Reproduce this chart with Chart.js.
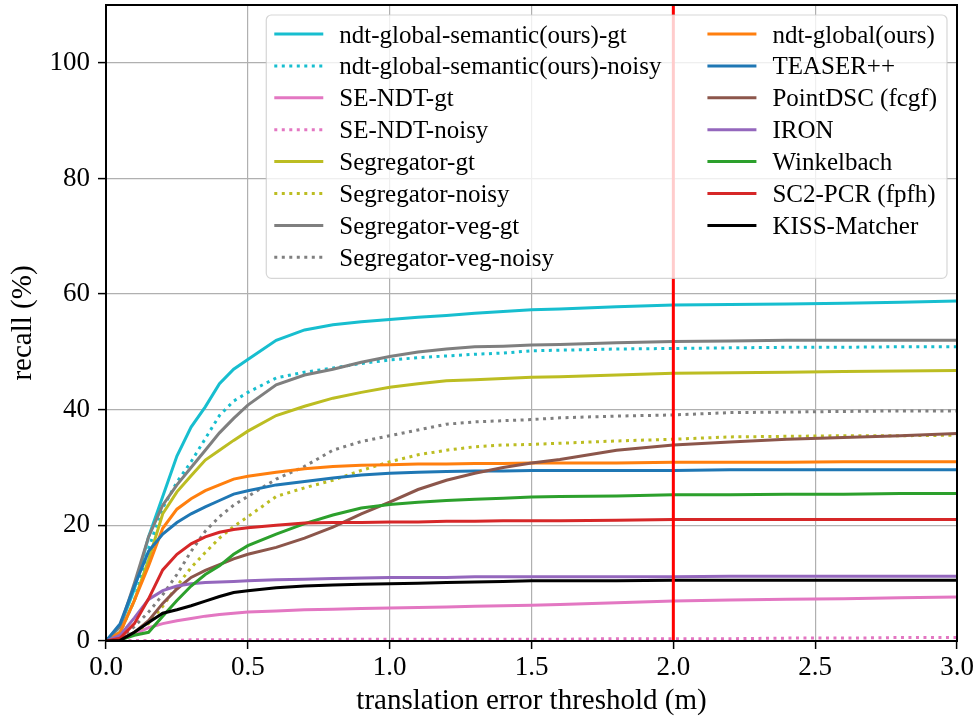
<!DOCTYPE html>
<html>
<head>
<meta charset="utf-8">
<script src="https://cdn.jsdelivr.net/npm/chart.js@4.4.1/dist/chart.umd.min.js"></script>
<style>
  html, body { margin: 0; padding: 0; background: #fff; }
</style>
</head>
<body>
<canvas id="recallChart" width="978" height="717"></canvas>
<script>
"use strict";
const thresholds = [0, 0.05, 0.1, 0.15, 0.2, 0.25, 0.3, 0.35, 0.4, 0.45, 0.5, 0.6, 0.7, 0.8, 0.9, 1.0, 1.1, 1.2, 1.3, 1.4, 1.5, 1.6, 1.8, 2.0, 2.2, 2.4, 2.6, 2.8, 3.0];

const semGt      = [0, 2.5, 9, 18, 25, 32, 37, 40.5, 44.5, 47, 48.7, 52, 53.8, 54.7, 55.2, 55.6, 56, 56.3, 56.7, 57, 57.3, 57.4, 57.8, 58.1, 58.2, 58.3, 58.4, 58.6, 58.8];
const semNoisy   = [0, 1.5, 7, 16, 23, 27.5, 31, 35, 39, 41.5, 43, 45.5, 46.5, 47.2, 48, 48.6, 49, 49.3, 49.6, 49.8, 50.2, 50.3, 50.5, 50.6, 50.7, 50.8, 50.8, 50.9, 50.9];
const seNdtGt    = [0, 0.3, 1.2, 2.3, 3, 3.5, 3.9, 4.3, 4.6, 4.8, 5, 5.2, 5.4, 5.5, 5.6, 5.7, 5.8, 5.9, 6, 6.1, 6.2, 6.3, 6.6, 6.9, 7.1, 7.2, 7.3, 7.5, 7.6];
const seNdtNoisy = [0, 0.1, 0.1, 0.1, 0.1, 0.1, 0.2, 0.2, 0.2, 0.2, 0.2, 0.2, 0.2, 0.3, 0.3, 0.3, 0.3, 0.3, 0.3, 0.3, 0.3, 0.3, 0.4, 0.4, 0.4, 0.5, 0.5, 0.6, 0.6];
const segGt      = [0, 1.5, 7, 14, 22, 25.8, 28.6, 31.3, 33, 34.7, 36.3, 39, 40.6, 42, 43, 43.9, 44.5, 45, 45.2, 45.4, 45.6, 45.7, 46, 46.3, 46.4, 46.5, 46.6, 46.7, 46.8];
const segNoisy   = [0, 0.3, 1.5, 3, 6, 9.5, 12.7, 15.3, 17.8, 19.8, 21.5, 25, 26.5, 27.8, 29.5, 31, 32.2, 33, 33.6, 33.9, 34, 34.2, 34.6, 34.9, 35.3, 35.4, 35.5, 35.5, 35.6];
const vegGt      = [0, 2.5, 10, 18, 23.5, 27, 30, 33, 36, 38.5, 40.8, 44.3, 46, 47, 48.2, 49.2, 50, 50.5, 50.9, 51, 51.2, 51.3, 51.6, 51.8, 51.9, 52, 52, 52, 52];
const vegNoisy   = [0, 0.5, 2.5, 5, 8, 11.5, 15.5, 19, 21.5, 23.5, 25, 28, 30.2, 33, 34.5, 35.5, 36.5, 37.5, 37.9, 38.1, 38.3, 38.6, 38.9, 39.1, 39.5, 39.6, 39.7, 39.8, 39.8];
const ndtGlobal  = [0, 1.5, 7, 13, 19.5, 22.8, 24.6, 26, 27, 28, 28.5, 29.2, 29.8, 30.2, 30.4, 30.5, 30.6, 30.6, 30.7, 30.7, 30.8, 30.8, 30.8, 30.9, 30.9, 30.9, 31, 31, 31];
const teaser     = [0, 3, 9.5, 15.5, 18.5, 20.5, 22, 23.2, 24.3, 25.4, 26, 27, 27.6, 28.2, 28.7, 29, 29.2, 29.3, 29.4, 29.4, 29.5, 29.5, 29.5, 29.5, 29.6, 29.6, 29.6, 29.6, 29.6];
const pointDsc   = [0, 0.3, 1.5, 3.5, 6.5, 9, 11, 12.2, 13.2, 14.2, 15, 16.2, 17.8, 19.7, 22, 24, 26.2, 27.8, 29, 30, 30.8, 31.4, 33, 33.9, 34.4, 34.9, 35.2, 35.5, 35.9];
const iron       = [0, 1, 4, 7.2, 8.7, 9.5, 9.9, 10.1, 10.2, 10.3, 10.4, 10.6, 10.7, 10.8, 10.9, 11, 11, 11, 11.1, 11.1, 11.1, 11.1, 11.1, 11.1, 11.2, 11.2, 11.2, 11.2, 11.2];
const winkelbach = [0, 0.2, 1, 1.5, 4.3, 7, 9.5, 11.5, 13, 15, 16.5, 18.5, 20.3, 21.8, 23, 23.6, 24, 24.3, 24.5, 24.7, 24.9, 25, 25.1, 25.3, 25.3, 25.4, 25.4, 25.5, 25.5];
const sc2pcr     = [0, 0.5, 3, 7.3, 12.3, 15, 16.8, 18, 18.8, 19.3, 19.6, 20, 20.4, 20.5, 20.5, 20.6, 20.6, 20.7, 20.7, 20.8, 20.8, 20.8, 20.9, 21, 21, 21, 21, 21, 21];
const kiss       = [0, 0.1, 1.5, 3.2, 4.8, 5.4, 6.1, 6.9, 7.7, 8.4, 8.7, 9.2, 9.5, 9.7, 9.8, 9.9, 10, 10.1, 10.2, 10.3, 10.4, 10.4, 10.4, 10.5, 10.5, 10.5, 10.5, 10.5, 10.5];

const xTicks = [0, 0.5, 1.0, 1.5, 2.0, 2.5, 3.0];
const yTicks = [0, 20, 40, 60, 80, 100];
const yMax = 110;
const cutoff = 2.0;   // red vertical marker

// label, values, colour, dotted?
const series = [
    ['ndt-global-semantic(ours)-gt', semGt, '#17becf', false],
    ['ndt-global-semantic(ours)-noisy', semNoisy, '#17becf', true],
    ['SE-NDT-gt', seNdtGt, '#e377c2', false],
    ['SE-NDT-noisy', seNdtNoisy, '#e377c2', true],
    ['Segregator-gt', segGt, '#bcbd22', false],
    ['Segregator-noisy', segNoisy, '#bcbd22', true],
    ['Segregator-veg-gt', vegGt, '#7f7f7f', false],
    ['Segregator-veg-noisy', vegNoisy, '#7f7f7f', true],
    ['ndt-global(ours)', ndtGlobal, '#ff7f0e', false],
    ['TEASER++', teaser, '#1f77b4', false],
    ['PointDSC (fcgf)', pointDsc, '#8c564b', false],
    ['IRON', iron, '#9467bd', false],
    ['Winkelbach', winkelbach, '#2ca02c', false],
    ['SC2-PCR (fpfh)', sc2pcr, '#d62728', false],
    ['KISS-Matcher', kiss, '#000000', false]
];

const SERIF = '"Liberation Serif", "Times New Roman", serif';
const DOT = [3, 4.5];

const datasets = series.map(function (s, i) {
    return {
        label: s[0],
        data: s[1].map((v, j) => ({ x: thresholds[j], y: v })),
        borderColor: s[2],
        backgroundColor: s[2],
        borderWidth: 3,
        borderDash: s[3] ? DOT : [],
        borderCapStyle: 'butt',
        pointRadius: 0,
        tension: 0,
        fill: false,
        order: -i,     // later curves on top, like matplotlib
        dotted: s[3]
    };
});

datasets.push({
    label: 'cutoff',
    data: [{ x: cutoff, y: 0 }, { x: cutoff, y: yMax }],
    borderColor: '#ff0000',
    borderWidth: 3,
    pointRadius: 0,
    order: -100,
    noLegend: true
});

// black frame round the axes
const frame = {
    id: 'frame',
    afterDatasetsDraw(chart) {
        const a = chart.chartArea, ctx = chart.ctx;
        ctx.save();
        ctx.strokeStyle = '#000';
        ctx.lineWidth = 2;
        ctx.strokeRect(a.left, a.top, a.right - a.left, a.bottom - a.top);
        ctx.restore();
    }
};

// matplotlib style legend, two columns, inside the upper right corner
const boxLegend = {
    id: 'boxLegend',
    afterDraw(chart) {
        const ctx = chart.ctx, area = chart.chartArea;
        const items = chart.data.datasets.filter(d => !d.noLegend);
        const perCol = Math.ceil(items.length / 2);
        const cols = [items.slice(0, perCol), items.slice(perCol)];
        const handle = 49, gap = 16, colGap = 46, pad = 8, rowH = 31.9;

        ctx.save();
        ctx.font = '25px ' + SERIF;
        const widths = cols.map(c => Math.max.apply(null, c.map(d => ctx.measureText(d.label).width)));
        const boxW = pad + handle + gap + widths[0] + colGap + handle + gap + widths[1] + pad + 2;
        const right = area.right - 10, top = area.top + 10;
        const left = right - boxW;
        const boxH = 19 + (perCol - 1) * rowH + 21;

        ctx.beginPath();
        ctx.roundRect(left, top, boxW, boxH, 5);
        ctx.fillStyle = 'rgba(255,255,255,0.8)';
        ctx.fill();
        ctx.strokeStyle = 'rgba(204,204,204,0.8)';
        ctx.lineWidth = 1.2;
        ctx.stroke();

        let colX = left + pad;
        cols.forEach(function (col, c) {
            col.forEach(function (d, r) {
                const y = top + 19 + r * rowH;
                ctx.beginPath();
                ctx.strokeStyle = d.borderColor;
                ctx.lineWidth = d.borderWidth;
                ctx.lineCap = 'butt';
                ctx.setLineDash(d.dotted ? DOT : []);
                ctx.moveTo(colX, y);
                ctx.lineTo(colX + handle, y);
                ctx.stroke();
                ctx.setLineDash([]);
                ctx.fillStyle = '#000';
                ctx.textBaseline = 'middle';
                ctx.textAlign = 'left';
                ctx.fillText(d.label, colX + handle + gap, y + 2);
            });
            colX += handle + gap + widths[c] + colGap;
        });
        ctx.restore();
    }
};

const ctx = document.getElementById('recallChart').getContext('2d');
const chart = new Chart(ctx, {
    type: 'line',
    data: { datasets: datasets },
    plugins: [frame, boxLegend],
    options: {
        responsive: false,
        animation: false,
        devicePixelRatio: 1,
        layout: { padding: { top: 5, right: 21, left: 0, bottom: 0 } },
        plugins: {
            legend: { display: false },
            tooltip: { enabled: false }
        },
        scales: {
            x: {
                type: 'linear',
                min: 0,
                max: 3,
                afterBuildTicks: s => { s.ticks = xTicks.map(v => ({ value: v })); },
                afterFit: s => { s.height = 76; s.paddingLeft = 0; s.paddingRight = 0; },
                ticks: {
                    callback: v => v.toFixed(1),
                    font: { family: SERIF, size: 27 },
                    color: '#000',
                    padding: 3,
                    maxRotation: 0,
                    autoSkip: false
                },
                grid: { color: '#b0b0b0', lineWidth: 1.2, tickColor: '#000', tickLength: 8, tickWidth: 1.5 },
                border: { color: '#000', width: 2 },
                title: {
                    display: true,
                    text: 'translation error threshold (m)',
                    font: { family: SERIF, size: 29, lineHeight: 1 },
                    color: '#000',
                    padding: { top: 0, bottom: 1 }
                }
            },
            y: {
                min: 0,
                max: yMax,
                afterBuildTicks: s => { s.ticks = yTicks.map(v => ({ value: v })); },
                afterFit: s => { s.width = 106; s.paddingTop = 0; s.paddingBottom = 0; },
                ticks: {
                    font: { family: SERIF, size: 27 },
                    color: '#000',
                    padding: 8
                },
                grid: { color: '#b0b0b0', lineWidth: 1.2, tickColor: '#000', tickLength: 8, tickWidth: 1.5 },
                border: { color: '#000', width: 2 },
                title: {
                    display: true,
                    text: 'recall (%)',
                    font: { family: SERIF, size: 29, lineHeight: 1 },
                    color: '#000',
                    padding: { top: 9, bottom: 0 }
                }
            }
        }
    }
});
</script>
</body>
</html>
